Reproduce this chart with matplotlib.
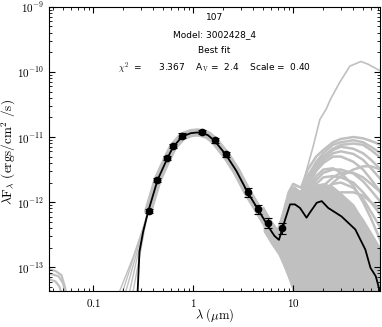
import numpy as np
import matplotlib
matplotlib.use('Agg')
import matplotlib.pyplot as plt
from matplotlib.ticker import LogLocator, FixedLocator, FuncFormatter, NullFormatter

plt.rcParams['mathtext.fontset'] = 'cm'

# observed photometry (micron, erg/cm2/s) and relative errors
wl_obs = [0.363, 0.436, 0.55, 0.63, 0.78, 1.22, 1.64, 2.14, 3.5, 4.4, 5.6, 7.8]
f_obs = [7.3e-13, 2.2e-12, 4.8e-12, 7.3e-12, 1.05e-11, 1.2e-11, 8.9e-12, 5.4e-12,
         1.44e-12, 7.9e-13, 4.8e-13, 4.0e-13]
rel_err = [0.08, 0.08, 0.08, 0.08, 0.08, 0.08, 0.08, 0.08, 0.16, 0.16, 0.18, 0.18]

# best fit model (log10 of lambda F_lambda)
wl_best = [0.27, 0.278, 0.29, 0.316, 0.355, 0.44, 0.55, 0.63, 0.78, 0.95, 1.1, 1.22, 1.4,
           1.64, 2.14, 2.7, 3.5, 4.4, 5.6, 6.5, 7.2, 8.3, 9.3, 10.4, 11.7, 13.6, 14.7,
           17.2, 19.3, 22.4, 30.4, 41.8, 52.7, 59.3, 67, 73.5, 80]
lf_best = [-14.5, -13.37, -12.76, -12.45, -12.14, -11.66, -11.33, -11.15, -10.99, -10.94,
           -10.93, -10.94, -10.97, -11.06, -11.28, -11.52, -11.85, -12.1, -12.37, -12.52,
           -12.58, -12.27, -12.035, -12.035, -12.09, -12.24, -12.16, -12.01, -11.985,
           -12.09, -12.22, -12.42, -12.73, -13.01, -13.14, -13.37, -13.6]

# other models: infrared part
wl_ir = [5, 6, 7, 8, 9, 10, 12, 14, 17, 20, 25, 30, 40, 50, 60, 75]
lf_ir = [
    [-12.1, -12.3, -12.45, -12.15, -11.85, -11.72, -11.78, -11.5, -11.3, -11.2, -11.08, -11.03, -11.0, -11.02, -11.06, -11.12],
    [-12.1, -12.3, -12.45, -12.2, -11.9, -11.78, -11.85, -11.6, -11.38, -11.25, -11.12, -11.08, -11.05, -11.08, -11.15, -11.25],
    [-12.12, -12.32, -12.47, -12.22, -11.92, -11.78, -11.86, -11.62, -11.42, -11.3, -11.18, -11.12, -11.1, -11.12, -11.2, -11.32],
    [-12.15, -12.35, -12.5, -12.25, -11.95, -11.8, -11.9, -11.68, -11.45, -11.32, -11.2, -11.15, -11.18, -11.25, -11.35, -11.5],
    [-12.15, -12.35, -12.5, -12.28, -11.98, -11.83, -11.92, -11.7, -11.5, -11.36, -11.25, -11.22, -11.26, -11.35, -11.48, -11.65],
    [-12.15, -12.35, -12.5, -12.3, -12.0, -11.85, -11.95, -11.75, -11.52, -11.4, -11.3, -11.3, -11.38, -11.5, -11.65, -11.85],
    [-12.15, -12.35, -12.5, -12.3, -12.0, -11.9, -12.0, -11.8, -11.6, -11.5, -11.48, -11.55, -11.75, -12.0, -12.25, -12.6],
    [-12.2, -12.4, -12.55, -12.35, -12.05, -11.95, -12.05, -11.9, -11.72, -11.62, -11.6, -11.62, -11.7, -11.85, -12.0, -12.2],
    [-12.2, -12.4, -12.55, -12.35, -12.05, -11.92, -12.0, -11.85, -11.66, -11.55, -11.5, -11.5, -11.56, -11.68, -11.82, -12.0],
    [-12.2, -12.4, -12.55, -12.35, -12.1, -12.0, -12.1, -12.0, -11.85, -11.78, -11.8, -11.88, -12.05, -12.3, -12.55, -12.9],
    [-12.2, -12.4, -12.6, -12.4, -12.15, -12.05, -12.15, -12.1, -11.95, -11.9, -11.95, -12.05, -12.3, -12.6, -12.9, -13.3],
    [-12.25, -12.45, -12.6, -12.45, -12.2, -12.1, -12.2, -12.2, -12.1, -12.05, -12.1, -12.2, -12.45, -12.75, -13.1, -13.5],
    [-12.2, -12.4, -12.55, -12.45, -12.3, -12.25, -12.3, -12.2, -12.0, -11.85, -11.7, -11.6, -11.5, -11.45, -11.45, -11.5],
    [-12.25, -12.45, -12.6, -12.5, -12.4, -12.35, -12.4, -12.3, -12.15, -12.0, -11.9, -11.85, -11.85, -11.9, -12.0, -12.1],
    [-12.2, -12.4, -12.55, -12.4, -12.2, -12.1, -12.15, -12.05, -11.88, -11.75, -11.62, -11.55, -11.55, -11.62, -11.72, -11.85],
    [-12.25, -12.45, -12.6, -12.45, -12.25, -12.15, -12.2, -12.1, -11.95, -11.82, -11.72, -11.7, -11.78, -11.95, -12.15, -12.4],
]

# dense part of the model fan (everything below it down to the axis is covered)
wl_fill = [5, 6, 7, 7.5, 8, 9, 10, 10.5, 11, 12, 14, 17, 20, 25, 30, 40, 50, 60, 75]
lf_fill_hi = [-12.05, -12.28, -12.42, -12.38, -12.2, -11.9, -11.75, -11.75, -11.8, -11.85,
              -11.82, -11.72, -11.7, -11.75, -11.85, -12.05, -12.25, -12.45, -12.7]
lf_fill_lo = [-12.45, -12.65, -12.8, -12.9, -13.0, -13.2, -13.4, -13.5, -15, -15,
              -15, -15, -15, -15, -15, -15, -15, -15, -15]

# one model with a very strong far-IR excess
wl_tall = [10, 12, 13, 15.8, 18.5, 21.4, 23.6, 29.2, 36.9, 47.6, 56, 73.5, 80]
lf_tall = [-12.0, -11.85, -11.62, -11.15, -10.73, -10.57, -10.42, -10.16, -9.91, -9.84, -9.88, -9.98, -10.02]

# models with UV flux
wl_uv = [[0.175, 0.25, 0.34], [0.19, 0.26, 0.34], [0.205, 0.27, 0.34],
         [0.225, 0.28, 0.345], [0.245, 0.29, 0.345]]
lf_uv = [[-13.45, -12.85, -12.25], [-13.45, -12.8, -12.25], [-13.45, -12.8, -12.22],
         [-13.45, -12.8, -12.2], [-13.45, -12.85, -12.2]]
wl_far = [[0.034, 0.042, 0.048, 0.052, 0.055], [0.034, 0.045, 0.05, 0.054],
          [0.034, 0.042, 0.046, 0.05], [0.034, 0.04, 0.043]]
lf_far = [[-13.02, -13.06, -13.12, -13.3, -13.5], [-13.08, -13.14, -13.25, -13.5],
          [-13.17, -13.22, -13.3, -13.5], [-13.33, -13.4, -13.5]]

x_ticks = [0.1, 1, 10]
y_ticks = [1e-13, 1e-12, 1e-11, 1e-10, 1e-9]

gray = '#c0c0c0'

fig = plt.figure(figsize=(3.82, 3.27), dpi=100)
ax = fig.add_axes([0.128, 0.110, 0.867, 0.869])

# gray band of models around the best fit
ax.plot(wl_best[4:19], 10 ** np.array(lf_best[4:19]), color=gray, lw=6, solid_capstyle='round', zorder=1)
ax.fill_between(wl_fill, 10 ** np.array(lf_fill_lo), 10 ** np.array(lf_fill_hi), color=gray, lw=0, zorder=1)
for lf in lf_ir:
    ax.plot(wl_ir, 10 ** np.array(lf), color=gray, lw=1.8, zorder=1)
ax.plot(wl_tall, 10 ** np.array(lf_tall), color=gray, lw=1.2, zorder=1)
for w, lf in zip(wl_uv, lf_uv):
    ax.plot(w, 10 ** np.array(lf), color=gray, lw=1.0, zorder=1)
for w, lf in zip(wl_far, lf_far):
    ax.plot(w, 10 ** np.array(lf), color=gray, lw=1.6, zorder=1)

# best fit
ax.plot(wl_best, 10 ** np.array(lf_best), color='black', lw=1.3, zorder=3)

f_obs = np.array(f_obs)
ax.errorbar(wl_obs, f_obs, yerr=f_obs * np.array(rel_err), fmt='o', color='black',
            ms=4.5, capsize=3, elinewidth=0.8, capthick=0.8, zorder=4)

ax.set_xscale('log')
ax.set_yscale('log')
ax.set_xlim(0.036, 74)
ax.set_ylim(4.3e-14, 1e-9)

ax.xaxis.set_major_locator(FixedLocator(x_ticks))
ax.yaxis.set_major_locator(FixedLocator(y_ticks))
ax.xaxis.set_major_formatter(FuncFormatter(lambda v, p: r'$%g$' % v))
ax.yaxis.set_major_formatter(FuncFormatter(lambda v, p: r'$10^{%d}$' % round(np.log10(v))))
ax.xaxis.set_minor_formatter(NullFormatter())
ax.yaxis.set_minor_formatter(NullFormatter())
ax.tick_params(which='both', direction='in', top=True, right=True, labelsize=8)
ax.tick_params(which='major', length=4, width=0.8)
ax.tick_params(which='minor', length=2, width=0.6)
ax.tick_params(axis='x', pad=4)

ax.set_xlabel(r'$\lambda\ (\mu{\rm m})$', fontsize=9, labelpad=-2)
ax.set_ylabel(r'$\lambda{\rm F}_\lambda\ ({\rm ergs/cm^2\ /s})$', fontsize=9.5)
ax.yaxis.set_label_coords(-0.092, 0.49)

ax.text(0.5, 0.961, '107', transform=ax.transAxes, ha='center', va='center', fontsize=6.5)
ax.text(0.5, 0.901, 'Model: 3002428_4', transform=ax.transAxes, ha='center', va='center', fontsize=6.5)
ax.text(0.5, 0.845, 'Best fit', transform=ax.transAxes, ha='center', va='center', fontsize=6.5)
ax.text(0.5, 0.782, r'$\chi^2$  =      3.367    A$_{\rm V}$ =  2.4    Scale =  0.40',
        transform=ax.transAxes, ha='center', va='center', fontsize=6.5)

fig.savefig('out.png', dpi=100)
